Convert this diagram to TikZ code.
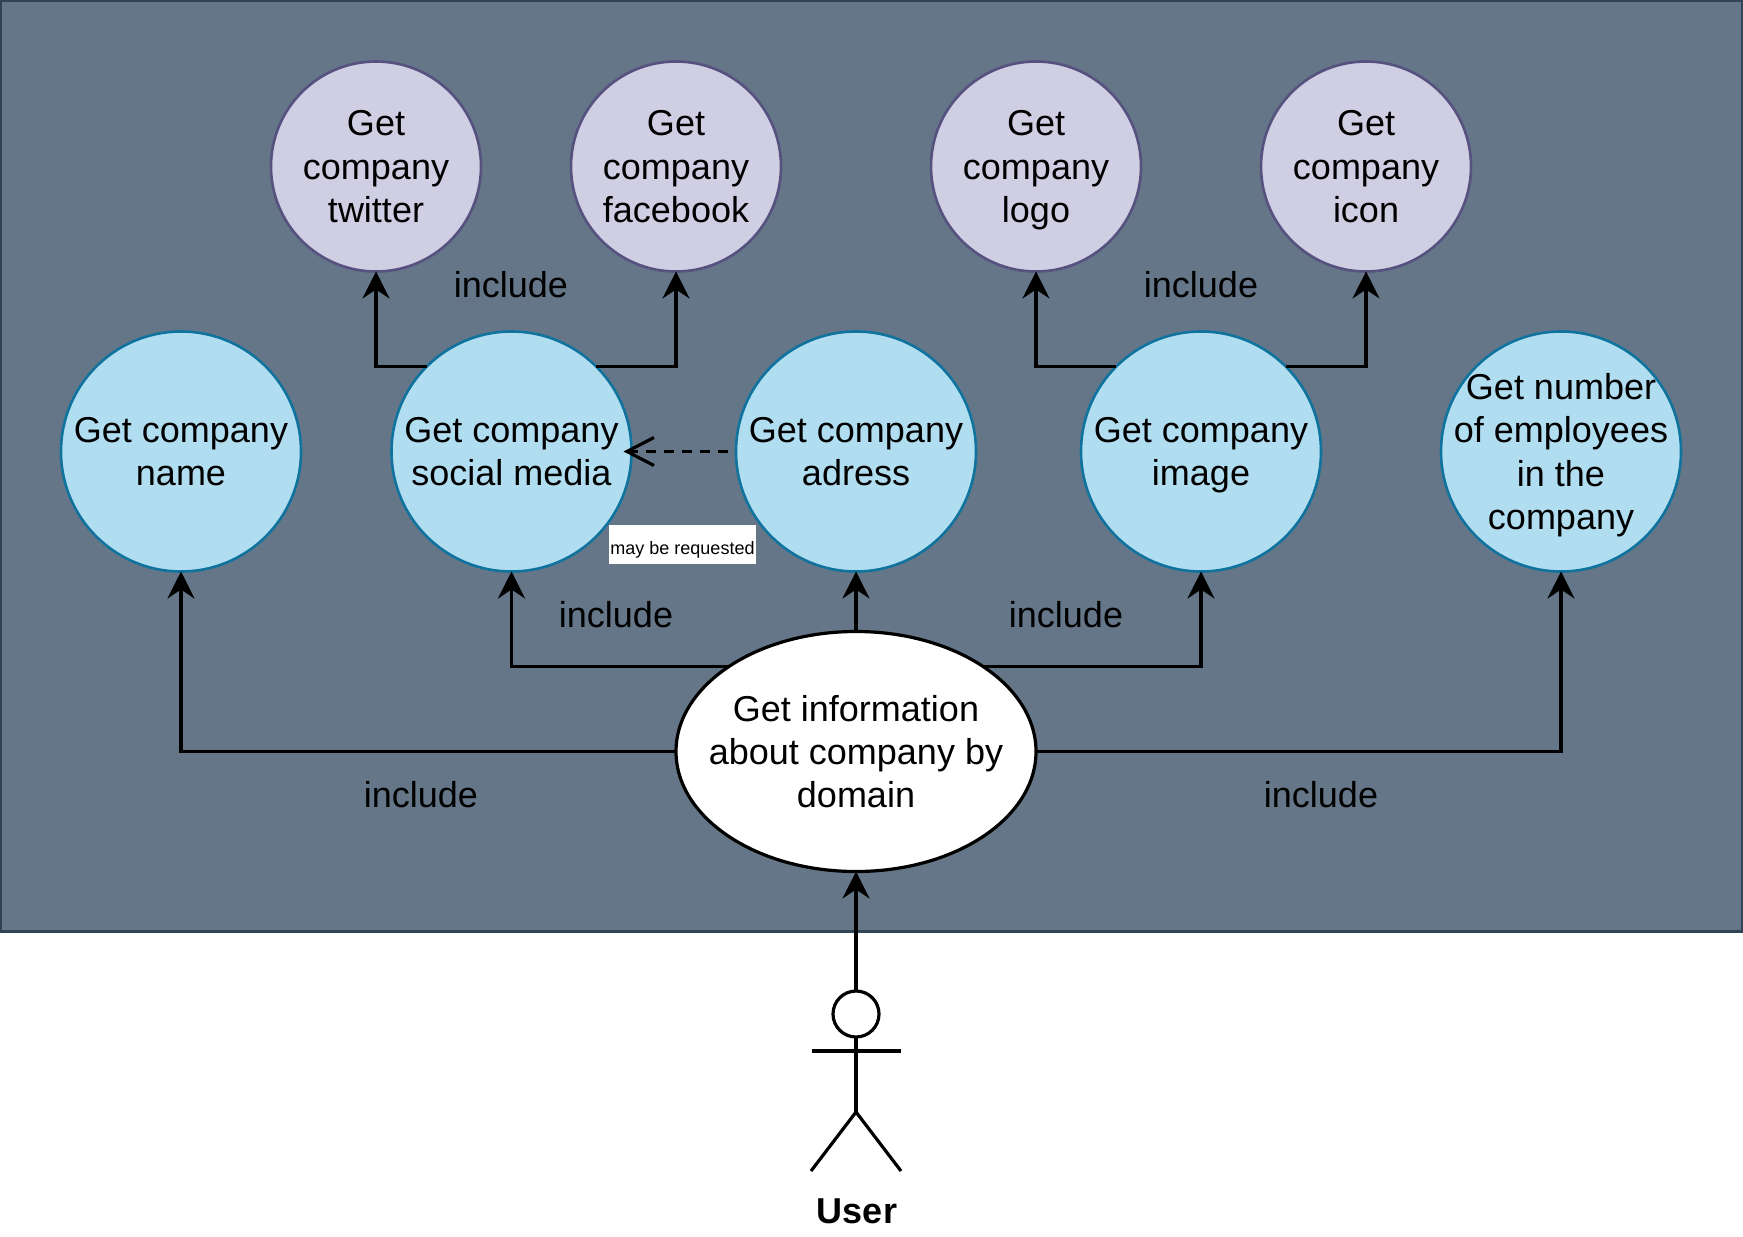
\documentclass[tikz,border=0pt]{standalone}
\usepackage{fontspec}
\setmainfont{Liberation Sans}
\usetikzlibrary{arrows.meta,shapes.geometric}
\definecolor{panelfill}{HTML}{647687}
\definecolor{panelline}{HTML}{314354}
\definecolor{bluefill}{HTML}{B1DDF0}
\definecolor{blueline}{HTML}{10739E}
\definecolor{purplefill}{HTML}{D0CEE2}
\definecolor{purpleline}{HTML}{56517E}
\newcommand{\lastline}[1]{\raisebox{0pt}[\height][0pt]{#1}}
\tikzset{
  casetext/.style={inner sep=-20pt,outer sep=0pt,align=center,font=\fontsize{18}{21.7}\selectfont},
  usecase/.style={circle,draw=blueline,fill=bluefill,line width=1.3pt,minimum size=120pt,casetext},
  subcase/.style={circle,draw=purpleline,fill=purplefill,line width=1.3pt,minimum size=105pt,casetext},
  maincase/.style={ellipse,draw=black,fill=white,line width=1.6pt,minimum width=180pt,minimum height=120pt,casetext},
  rel/.style={line width=1.6pt,draw=black,-{Stealth[length=13.5pt,width=13.5pt,inset=4.5pt]}},
  inclabel/.style={inner sep=0pt,font=\fontsize{18}{21.7}\selectfont},
  stick/.style={line width=1.6pt,draw=black},
}
\begin{document}
\begin{tikzpicture}[x=0.5pt,y=-0.5pt]
\useasboundingbox (0,0) rectangle (1743,1236);
\fill[white] (0,0) rectangle (1743,1236);
\draw[fill=panelfill,draw=panelline,line width=1.3pt] (1,1) rectangle (1742,931.5);

\node[usecase] (name) at (181,451.5) {Get company\\\lastline{name}};
\node[usecase] (social) at (511.5,451.5) {Get company\\\lastline{social media}};
\node[usecase] (adress) at (856,451.5) {Get company\\\lastline{adress}};
\node[usecase] (image) at (1201,451.5) {Get company\\\lastline{image}};
\node[usecase] (employees) at (1561,451.5) {Get number\\of employees\\in the\\\lastline{company}};

\node[subcase] (twitter) at (376,166.5) {Get\\company\\\lastline{twitter}};
\node[subcase] (facebook) at (676,166.5) {Get\\company\\\lastline{facebook}};
\node[subcase] (logo) at (1036,166.5) {Get\\company\\\lastline{logo}};
\node[subcase] (icon) at (1366,166.5) {Get\\company\\\lastline{icon}};

\node[maincase] (info) at (856,751.5) {Get information\\about company by\\\lastline{domain}};

\draw[rel] (info.west) -| (name.south);
\draw[rel] (info.east) -| (employees.south);
\draw[rel] (info.north west) -| (social.south);
\draw[rel] (info.north) -- (adress.south);
\draw[rel] (info.north east) -| (image.south);
\draw[rel] (social.north west) -| (twitter.south);
\draw[rel] (social.north east) -| (facebook.south);
\draw[rel] (image.north west) -| (logo.south);
\draw[rel] (image.north east) -| (icon.south);
\draw[line width=1.6pt,dash pattern=on 5pt off 4pt,shorten >=-4pt,shorten <=4pt,-{Straight Barb[length=13.5pt,width=14pt,line width=1.6pt]}] (adress.west) -- (social.east);

\node[inclabel] (l1) at (511,285) {include};
\node[inclabel] (l2) at (1201,285) {include};
\node[inclabel] (l3) at (616,615) {include};
\node[inclabel] (l4) at (1066,615) {include};
\node[inclabel] (l5) at (421,795) {include};
\node[inclabel] (l6) at (1321,795) {include};

\node[fill=white,minimum width=73.5pt,minimum height=19.5pt,inner sep=0pt,font=\fontsize{9}{11}\selectfont] (note) at (682.5,544.5) {\raisebox{-5pt}[0pt][0pt]{may be requested}};

% actor
\node[circle,stick,fill=white,minimum size=23pt,inner sep=0pt,outer sep=0pt] (head) at (856,1014) {};
\coordinate (hip) at (856,1112);
\coordinate (armL) at (811.5,1051);
\coordinate (armR) at (901,1051);
\coordinate (footL) at (811,1171);
\coordinate (footR) at (901,1171);
\draw[stick] (head.south) -- (hip);
\draw[stick] (armL) -- (armR);
\draw[stick] (footL) -- (hip) -- (footR);
\draw[rel] (head.north) -- (info.south);
\node[inner sep=0pt,font=\fontsize{18}{21.7}\selectfont\bfseries] (user) at (857,1211) {User};
\end{tikzpicture}
\end{document}
